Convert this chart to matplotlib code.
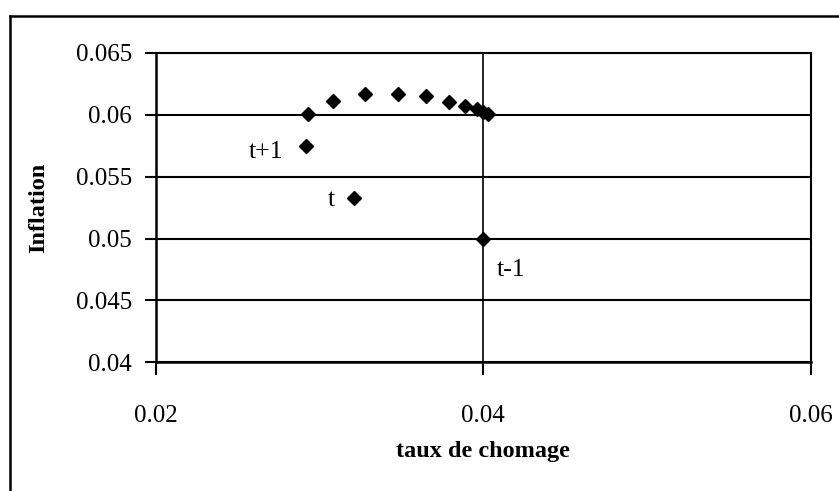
import matplotlib
matplotlib.use("Agg")
import matplotlib.pyplot as plt
from matplotlib.lines import Line2D

# Unemployment rate vs inflation path
chomage = [0.0293, 0.0308, 0.0328, 0.0348, 0.0365, 0.0379, 0.0389, 0.0396, 0.0400, 0.0403,
           0.0292, 0.0321, 0.0400]
inflation = [0.0601, 0.0611, 0.0617, 0.0617, 0.0615, 0.0610, 0.0607, 0.0605, 0.0602, 0.0601,
             0.0575, 0.0533, 0.0500]

# Labelled periods
labels = ["t+1", "t", "t-1"]
label_x = [0.0292, 0.0321, 0.0400]
label_y = [0.0575, 0.0533, 0.0500]

xticks = [0.02, 0.04, 0.06]
yticks = [0.04, 0.045, 0.05, 0.055, 0.06, 0.065]
xtick_labels = ["0.02", "0.04", "0.06"]
ytick_labels = ["0.04", "0.045", "0.05", "0.055", "0.06", "0.065"]

plt.rcParams["font.family"] = ["Liberation Serif", "DejaVu Serif"]

W, H = 839, 491
fig = plt.figure(figsize=(W / 100, H / 100), dpi=100)
ax = fig.add_axes([155.7 / W, 1 - 362.3 / H, (810.7 - 155.7) / W, (362.3 - 53) / H])

ax.set_xlim(0.02, 0.06)
ax.set_ylim(0.04, 0.065)
ax.set_xticks(xticks)
ax.set_xticklabels(xtick_labels)
ax.set_yticks(yticks)
ax.set_yticklabels(ytick_labels)

for y in yticks:
    ax.axhline(y, color="black", lw=1.5, zorder=1)
ax.axvline(0.04, color="black", lw=1.2, zorder=1)

for s in ["left", "bottom"]:
    ax.spines[s].set_linewidth(1.8)
for s in ["top", "right"]:
    ax.spines[s].set_linewidth(1.5)

ax.tick_params(axis="x", direction="out", length=9, width=1.5, pad=22, labelsize=18)
ax.tick_params(axis="y", direction="out", length=8, width=1.5, pad=9, labelsize=18)

ax.plot(chomage, inflation, linestyle="none", marker="D", markersize=7,
        color="black", zorder=3)

offsets = [(-16.5, -4.5), (-13.7, -1.4), (10, -22.5)]
aligns = ["right", "right", "left"]
for lab, x, y, off, ha in zip(labels, label_x, label_y, offsets, aligns):
    ax.annotate(lab, (x, y), xytext=off, textcoords="offset points",
                fontsize=18.5, ha=ha, va="center")

ax.set_xlabel("taux de chomage", fontsize=17.5, fontweight="bold")
ax.set_ylabel("Inflation", fontsize=17.5, fontweight="bold")
ax.xaxis.set_label_coords(0.5, (362.3 - 451) / 309.3)
ax.xaxis.label.set_va("center")
ax.yaxis.set_label_coords((39 - 155.7) / 655, 0.5)
ax.yaxis.label.set_va("center")
ax.yaxis.label.set_ha("center")

# Outer chart frame (left and top edges)
fig.add_artist(Line2D([10 / W, 10 / W], [0, 1 - 16 / H], transform=fig.transFigure,
                      color="black", lw=1.8))
fig.add_artist(Line2D([10 / W, 1], [1 - 16 / H, 1 - 16 / H], transform=fig.transFigure,
                      color="black", lw=1.8))

fig.savefig("out.png", dpi=100)
